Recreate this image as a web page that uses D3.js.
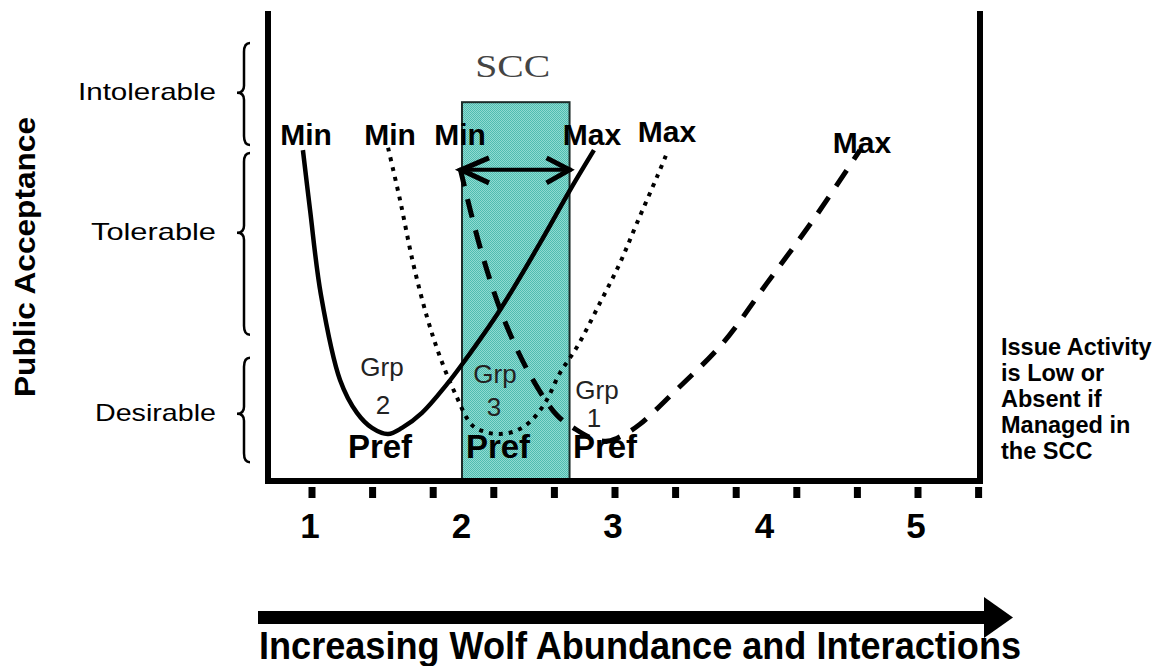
<!DOCTYPE html>
<html><head><meta charset="utf-8">
<script src="https://cdn.jsdelivr.net/npm/d3@7"></script>
<style>html,body{margin:0;padding:0;background:#fff;} svg{display:block;}</style>
</head><body><svg id="c" width="1174" height="666"></svg>
<script>
// ---------- data ----------
const majorTicks = [1, 2, 3, 4, 5];
const minorTicks = [1, 1.4, 1.8, 2.2, 2.6, 3, 3.4, 3.8, 4.2, 4.6, 5, 5.4];
const bands   = ["Intolerable", "Tolerable", "Desirable"];
const bandLo  = [71.5, 31.1, 4.0];
const bandHi  = [93.2, 69.8, 26.2];
const bandMid = [82.6, 52.8, 14.3];
const sccRange = [1.99, 2.70];
const sccTop = 80.6;
const sccArrowLevel = 66.2;
// Group 2 (solid)
const grp2X = [0.94, 0.987, 1.059, 1.185, 1.297, 1.396, 1.502, 1.594, 1.726, 1.891, 1.997, 2.241, 2.505, 2.703, 2.861];
const grp2Y = [70.4, 57.7, 39.6, 21.5, 14.5, 11.3, 10.0, 11.3, 14.5, 20.6, 25.1, 36.4, 50.6, 61.9, 70.4];
// Group 3 (dotted)
const grp3X = [1.502, 1.581, 1.667, 1.759, 1.845, 1.944, 2.056, 2.149, 2.241, 2.340, 2.439, 2.538, 2.637, 2.749, 2.901, 3.033, 3.145, 3.277, 3.343];
const grp3Y = [70.9, 59.8, 46.4, 34.9, 26.4, 18.7, 11.9, 10.4, 10.0, 10.6, 12.6, 16.6, 23.0, 28.5, 37.9, 46.4, 54.9, 64.7, 69.8];
// Group 1 (dashed)
const grp1X = [1.977, 2.109, 2.261, 2.439, 2.617, 2.736, 2.848, 2.954, 3.066, 3.165, 3.383, 3.713, 4.003, 4.307, 4.617];
const grp1Y = [66.6, 49.8, 34.9, 22.6, 14.0, 11.1, 9.1, 8.5, 10.0, 12.1, 18.7, 29.4, 42.1, 55.5, 70.4];
const noteLines = ["Issue Activity", "is Low or", "Absent if", "Managed in", "the SCC"];

// ---------- layout ----------
const svg = d3.select("#c");
const F = {left: 268, right: 980, top: 11, bottom: 481};
const x = d3.scaleLinear().domain([1, 5.4]).range([312, 978.6]);
const y = d3.scaleLinear().domain([0, 100]).range([481, 11]);
const SANS = "'Liberation Sans', Arial, sans-serif";

// pattern for SCC rect
const defs = svg.append("defs");
const pat = defs.append("pattern").attr("id", "dither").attr("width", 2).attr("height", 2)
  .attr("patternUnits", "userSpaceOnUse");
pat.append("rect").attr("width", 2).attr("height", 2).attr("fill", "#8fdad1");
pat.append("rect").attr("x", 0).attr("y", 0).attr("width", 1).attr("height", 1).attr("fill", "#4fbdb0");
pat.append("rect").attr("x", 1).attr("y", 1).attr("width", 1).attr("height", 1).attr("fill", "#4fbdb0");

// SCC rect
svg.append("rect")
  .attr("x", x(sccRange[0])).attr("y", y(sccTop))
  .attr("width", x(sccRange[1]) - x(sccRange[0]))
  .attr("height", y(0) - y(sccTop))
  .attr("fill", "url(#dither)").attr("stroke", "#1c2b29").attr("stroke-width", 2);

svg.append("text").text("SCC")
  .attr("x", (x(sccRange[0]) + x(sccRange[1])) / 2 - 3).attr("y", 77)
  .attr("text-anchor", "middle")
  .attr("font-family", "'Liberation Serif', 'Times New Roman', serif")
  .attr("font-size", 32).attr("fill", "#444")
  .attr("textLength", 75).attr("lengthAdjust", "spacingAndGlyphs");

// frame
svg.append("path")
  .attr("d", `M${F.left},${F.top} L${F.left},${F.bottom} L${F.right},${F.bottom} L${F.right},${F.top}`)
  .attr("fill", "none").attr("stroke", "#000").attr("stroke-width", 6).attr("stroke-linejoin", "miter");

// ticks
svg.selectAll("rect.tick").data(minorTicks).join("rect").attr("class", "tick")
  .attr("x", d => x(d) - 3.5).attr("y", 487).attr("width", 7).attr("height", 11).attr("fill", "#000");

svg.selectAll("text.tl").data(majorTicks).join("text").attr("class", "tl")
  .attr("x", d => x(d) - 2).attr("y", 538).attr("text-anchor", "middle")
  .attr("font-family", SANS).attr("font-weight", "bold").attr("font-size", 35)
  .text(d => d);

// curves
const line = (xs, ys) => d3.line().curve(d3.curveCatmullRom.alpha(0.5))
  .x((d, i) => x(xs[i])).y((d, i) => y(ys[i]))(xs);

svg.append("path").attr("d", line(grp2X, grp2Y))
  .attr("fill", "none").attr("stroke", "#000").attr("stroke-width", 4.5);
svg.append("path").attr("d", line(grp3X, grp3Y))
  .attr("fill", "none").attr("stroke", "#000").attr("stroke-width", 4)
  .attr("stroke-dasharray", "4,6");
svg.append("path").attr("d", line(grp1X, grp1Y))
  .attr("fill", "none").attr("stroke", "#000").attr("stroke-width", 5)
  .attr("stroke-dasharray", "19,13");

// double arrow across SCC
const ax0 = x(sccRange[0]) - 3, ax1 = x(sccRange[1]) + 2, ay = y(sccArrowLevel);
svg.append("line").attr("x1", ax0).attr("x2", ax1).attr("y1", ay).attr("y2", ay)
  .attr("stroke", "#000").attr("stroke-width", 4);
svg.append("path").attr("d", `M${ax0 + 30},${ay - 12} L${ax0 + 2},${ay} L${ax0 + 30},${ay + 13}`)
  .attr("fill", "none").attr("stroke", "#000").attr("stroke-width", 5).attr("stroke-linejoin", "miter");
svg.append("path").attr("d", `M${ax1 - 25},${ay - 12} L${ax1 - 2},${ay} L${ax1 - 25},${ay + 13}`)
  .attr("fill", "none").attr("stroke", "#000").attr("stroke-width", 5).attr("stroke-linejoin", "miter");

// Min / Max / Pref labels
const bold = (t, cx, by, fs) => svg.append("text").text(t).attr("x", cx).attr("y", by)
  .attr("text-anchor", "middle").attr("font-family", SANS).attr("font-weight", "bold")
  .attr("font-size", fs).attr("fill", "#000");
bold("Min", 306, 145, 30);
bold("Min", 390, 145, 30);
bold("Min", 460, 145, 30);
bold("Max", 592, 145, 30);
bold("Max", 667, 142, 30);
bold("Max", 862, 153, 30);
bold("Pref", 380, 458, 33);
bold("Pref", 498, 458, 33);
bold("Pref", 605, 458, 33);

const grp = (t, cx, by) => svg.append("text").text(t).attr("x", cx).attr("y", by)
  .attr("text-anchor", "middle").attr("font-family", SANS).attr("font-size", 26).attr("fill", "#222");
grp("Grp", 382, 376); grp("2", 383, 414);
grp("Grp", 495, 383); grp("3", 494, 416);
grp("Grp", 597, 399); grp("1", 594, 427);

// braces + band labels
const bandLen = [138, 125, 121];
bands.forEach((b, i) => {
  const t = y(bandHi[i]), bo = y(bandLo[i]), m = y(bandMid[i]);
  const bx = 244;
  svg.append("path")
    .attr("d", `M${bx + 6},${t} Q${bx},${t} ${bx},${t + 9} L${bx},${m - 7} Q${bx},${m} ${bx - 7},${m} Q${bx},${m} ${bx},${m + 7} L${bx},${bo - 9} Q${bx},${bo} ${bx + 6},${bo}`)
    .attr("fill", "none").attr("stroke", "#000").attr("stroke-width", 2.5);
  svg.append("text").text(b).attr("x", 216).attr("y", m + 7)
    .attr("text-anchor", "end").attr("font-family", SANS).attr("font-size", 24).attr("fill", "#000")
    .attr("textLength", bandLen[i]).attr("lengthAdjust", "spacingAndGlyphs");
});

// y label
svg.append("text").text("Public Acceptance")
  .attr("transform", "translate(35,257) rotate(-90)")
  .attr("text-anchor", "middle").attr("font-family", SANS).attr("font-weight", "bold")
  .attr("font-size", 29).attr("fill", "#000")
  .attr("textLength", 280).attr("lengthAdjust", "spacingAndGlyphs");

// note on right
svg.selectAll("text.note").data(noteLines).join("text").attr("class", "note")
  .attr("x", 1001).attr("y", (d, i) => 355 + i * 26)
  .attr("font-family", SANS).attr("font-weight", "bold").attr("font-size", 23.5).attr("fill", "#000")
  .text(d => d);

// bottom arrow + title
svg.append("rect").attr("x", 258).attr("y", 611).attr("width", 730).attr("height", 13).attr("fill", "#000");
svg.append("path").attr("d", "M984,597 L1013,617.5 L984,638 Z").attr("fill", "#000");
svg.append("text").text("Increasing Wolf Abundance and Interactions")
  .attr("x", 259).attr("y", 659)
  .attr("font-family", "'Liberation Sans Narrow', 'Liberation Sans', Arial, sans-serif")
  .attr("font-weight", "bold").attr("font-size", 38).attr("fill", "#000")
  .attr("textLength", 762).attr("lengthAdjust", "spacingAndGlyphs");
</script>
</body></html>
